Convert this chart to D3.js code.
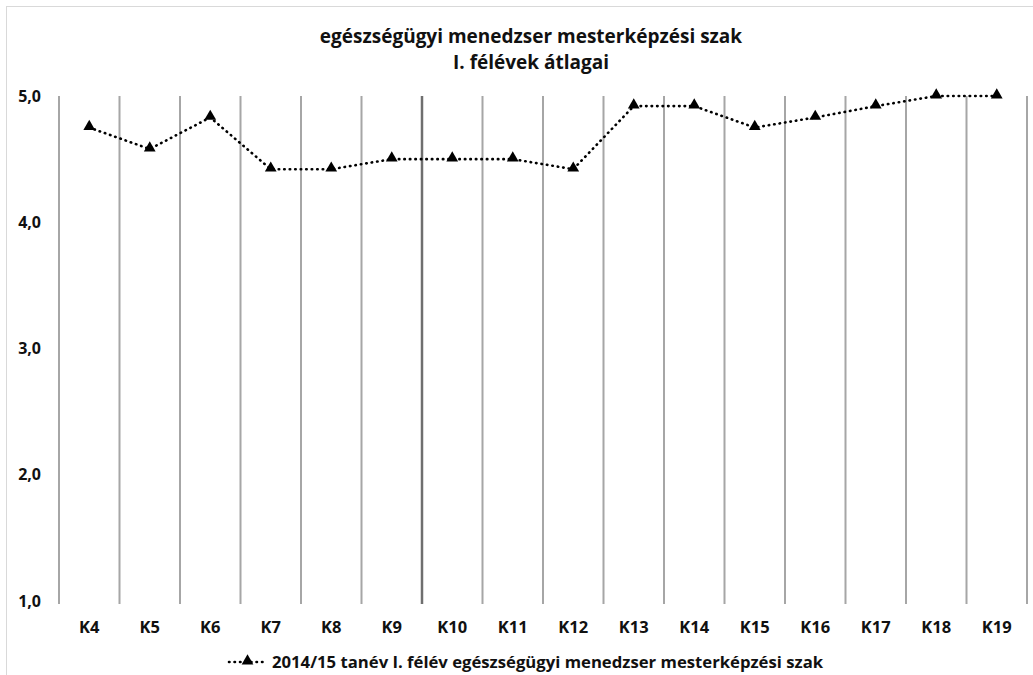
<!DOCTYPE html>
<html lang="hu">
<head>
<meta charset="UTF-8">
<title>egészségügyi menedzser mesterképzési szak</title>
<style>
  body { margin: 0; background: #fff; }
  svg { display: block; font-family: 'Open Sans', Lato, Arial, sans-serif; }
  .lbl { font-weight: bold; fill: #111; }
</style>
</head>
<body>
<svg width="1033" height="675"></svg>
<script src="https://d3js.org/d3.v7.min.js"></script>
<script>
  // chart data
  const categories = ["K4","K5","K6","K7","K8","K9","K10","K11","K12","K13","K14","K15","K16","K17","K18","K19"];
  const values = [4.75, 4.58, 4.83, 4.42, 4.42, 4.5, 4.5, 4.5, 4.42, 4.92, 4.92, 4.75, 4.83, 4.92, 5.0, 5.0];
  const yTicks = [1, 2, 3, 4, 5];
  const titleLines = ["egészségügyi menedzser mesterképzési szak", "I. félévek átlagai"];
  const seriesName = "2014/15 tanév I. félév egészségügyi menedzser mesterképzési szak";

  const svg = d3.select("svg");
  const plotL = 59, plotR = 1027, plotT = 96, plotB = 601;

  // outer frame
  svg.append("rect").attr("x", 6.5).attr("y", 6.5).attr("width", 1040).attr("height", 700)
    .attr("fill", "none").attr("stroke", "#d9d9d9");

  const x = d3.scaleBand().domain(categories).range([plotL, plotR]);
  const y = d3.scaleLinear().domain([1, 5]).range([plotB, plotT]);

  // vertical gridlines at category boundaries
  const bounds = categories.map(c => x(c)).concat([plotR]);
  svg.append("g").selectAll("line").data(bounds).join("line")
    .attr("x1", d => d).attr("x2", d => d)
    .attr("y1", plotT).attr("y2", plotB + 3)
    .attr("stroke", (d, i) => i === 6 ? "#6f6f6f" : "#a6a6a6")
    .attr("stroke-width", (d, i) => i === 6 ? 2.5 : 2);

  // y axis labels
  svg.append("g").selectAll("text").data(yTicks).join("text")
    .attr("class", "lbl")
    .attr("x", 41).attr("y", d => y(d)).attr("dy", "0.35em")
    .attr("text-anchor", "end").attr("font-size", 16)
    .text(d => d.toFixed(1).replace(".", ","));

  // x axis labels
  svg.append("g").selectAll("text").data(categories).join("text")
    .attr("class", "lbl")
    .attr("x", d => x(d) + x.bandwidth() / 2).attr("y", 627).attr("dy", "0.35em")
    .attr("text-anchor", "middle").attr("font-size", 16.5)
    .text(d => d);

  // title
  svg.append("g").selectAll("text").data(titleLines).join("text")
    .attr("class", "lbl")
    .attr("x", 531).attr("y", (d, i) => 36 + i * 26).attr("dy", "0.35em")
    .attr("text-anchor", "middle").attr("font-size", 19)
    .text(d => d);

  // series line
  const pts = categories.map((c, i) => [x(c) + x.bandwidth() / 2, y(values[i])]);
  svg.append("path").attr("d", d3.line()(pts))
    .attr("fill", "none").attr("stroke", "#000").attr("stroke-width", 2.6)
    .attr("stroke-linecap", "round").attr("stroke-dasharray", "0.5 5");

  const tri = d3.symbol().type(d3.symbolTriangle).size(60);
  svg.append("g").selectAll("path").data(pts).join("path")
    .attr("d", tri).attr("transform", d => `translate(${d[0]},${d[1] - 1})`)
    .attr("fill", "#000");

  // legend
  const lg = svg.append("g");
  lg.append("line").attr("x1", 229).attr("x2", 266).attr("y1", 662).attr("y2", 662)
    .attr("stroke", "#000").attr("stroke-width", 2.6)
    .attr("stroke-linecap", "round").attr("stroke-dasharray", "0.5 5");
  lg.append("path").attr("d", tri).attr("transform", "translate(247.5,661)").attr("fill", "#000");
  lg.append("text").attr("class", "lbl").attr("x", 272).attr("y", 662).attr("dy", "0.35em")
    .attr("font-size", 16.7).text(seriesName);
</script>
</body>
</html>
